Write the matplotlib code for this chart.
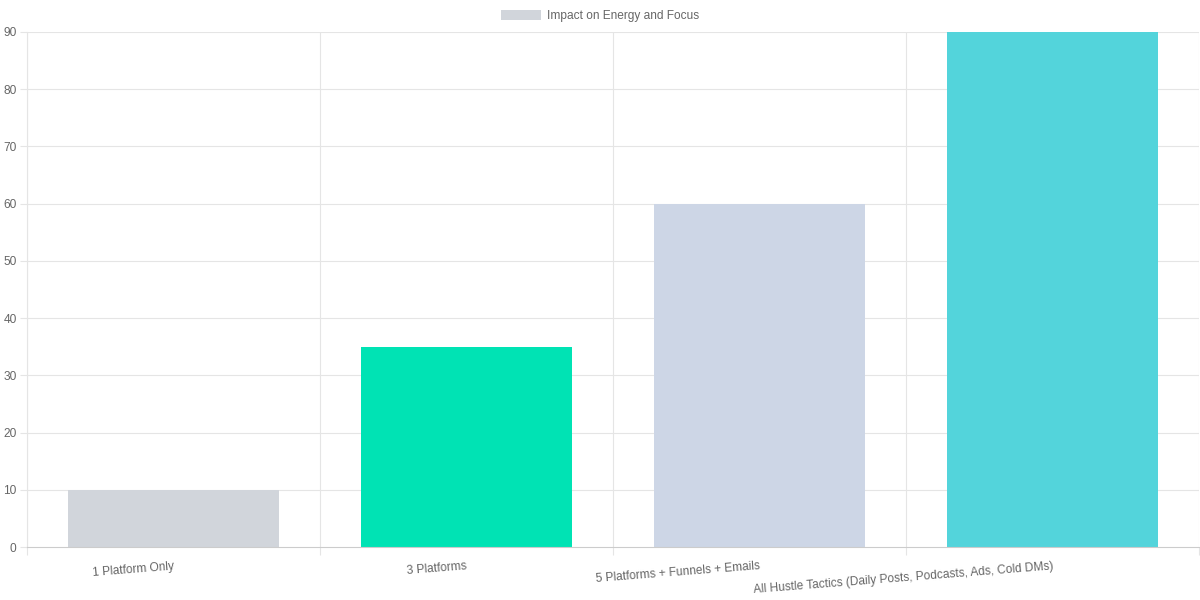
import numpy as np
import matplotlib.pyplot as plt
from matplotlib.patches import Patch

plt.rcParams['font.family'] = ['Liberation Sans', 'DejaVu Sans']

categories = ['1 Platform Only', '3 Platforms', '5 Platforms + Funnels + Emails',
              'All Hustle Tactics (Daily Posts, Podcasts, Ads, Cold DMs)']
values = [10, 35, 60, 90]
bar_colors = ['#d1d5db', '#00e3b4', '#cdd6e6', '#53d4db']
series_name = 'Impact on Energy and Focus'

fig = plt.figure(figsize=(12, 6), dpi=100)
ax = fig.add_axes([27 / 1200, 53 / 600, 1172 / 1200, 515 / 600])

x = np.arange(len(categories))
ax.bar(x, values, width=0.72, color=bar_colors, zorder=2)

ax.set_xlim(-0.5, len(categories) - 0.5)
ax.set_ylim(0, 90)
ax.set_yticks(range(0, 91, 10))
ax.set_xticks(x)
ax.set_xticklabels(categories, rotation=4.5, ha='right', va='top', rotation_mode='anchor')
ax.set_xticks(np.arange(-0.5, len(categories), 1), minor=True)

ax.grid(False)
for b in np.arange(-0.5, len(categories), 1):
    ax.axvline(b, color='#e5e5e5', lw=0.8, zorder=0)
for v in range(10, 91, 10):
    ax.axhline(v, color='#e5e5e5', lw=0.8, zorder=0)

ax.tick_params(axis='x', which='major', length=0, pad=9.5, labelsize=8.6, labelcolor='#666666')
ax.tick_params(axis='x', which='minor', length=5.5, color='#e5e5e5', width=0.8)
ax.tick_params(axis='y', length=5, color='#e5e5e5', width=0.8, labelsize=8.6,
               labelcolor='#666666', pad=2.5)

for s in ['top', 'right']:
    ax.spines[s].set_visible(False)
ax.spines['left'].set_color('#e5e5e5')
ax.spines['bottom'].set_color('#cccccc')

handle = Patch(facecolor='#d1d5db', edgecolor='none')
fig.legend([handle], [series_name], loc='center', bbox_to_anchor=(0.5, 1 - 16 / 600),
           frameon=False, fontsize=8.6, labelcolor='#666666',
           handlelength=3.3, handleheight=0.9, handletextpad=0.5)

fig.savefig('out.png', dpi=100)
